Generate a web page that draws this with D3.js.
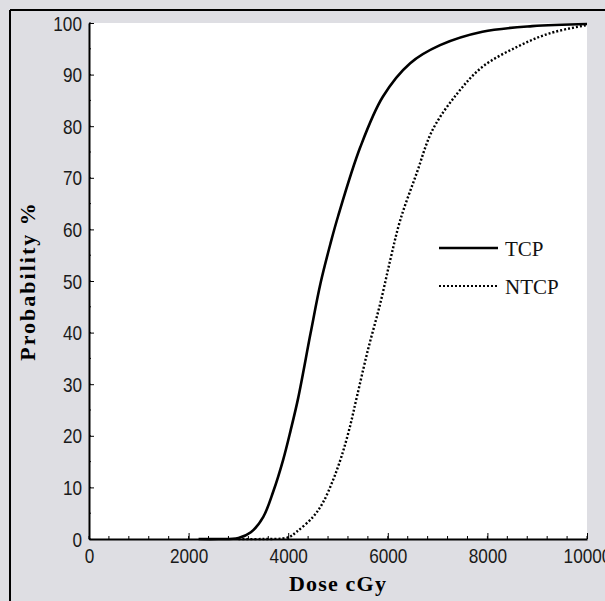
<!DOCTYPE html>
<html>
<head>
<meta charset="utf-8">
<script src="https://cdn.jsdelivr.net/npm/d3@7"></script>
<style>
html,body{margin:0;padding:0;background:#dedee3;}
svg{display:block;}
</style>
</head>
<body>
<svg id="chart" width="605" height="601"></svg>
<script>
// ---- data ----
const xTicks = [0, 2000, 4000, 6000, 8000, 10000];
const yTicks = [0, 10, 20, 30, 40, 50, 60, 70, 80, 90, 100];
const seriesNames = ["TCP", "NTCP"];
const tcpDose = [2200, 2600, 3000, 3250, 3500, 3700, 3900, 4050, 4200, 4450, 4650, 4850, 5000, 5450, 5900, 6450, 7050, 7900, 8900, 10000];
const tcpProb = [0, 0, 0.2, 1.3, 4.3, 9.2, 15.4, 21.1, 27.3, 39.9, 49.6, 57.3, 62.5, 76.0, 85.7, 92.2, 95.7, 98.3, 99.4, 99.8];
const ntcpDose = [3000, 3500, 4000, 4170, 4500, 4700, 4900, 5070, 5230, 5380, 5600, 5850, 6050, 6250, 6580, 6900, 7400, 7900, 8600, 9250, 10000];
const ntcpProb = [0, 0, 0.3, 1.4, 4.3, 7.1, 11.4, 16.0, 21.4, 27.6, 36.6, 45.7, 54.1, 61.8, 70.9, 79.3, 86.4, 91.5, 95.4, 98.0, 99.6];
const xTitle = "Dose cGy";
const yTitle = "Probability %";

// ---- layout ----
const svg = d3.select("#chart");
const L = 89, R = 587, T = 23, B = 539;
const x = d3.scaleLinear().domain([0, 10000]).range([L, R]);
const y = d3.scaleLinear().domain([0, 100]).range([B, T]);

svg.append("rect").attr("x",0).attr("y",0).attr("width",605).attr("height",601).attr("fill","#dedee3");
// outer frame (top and left edges)
svg.append("line").attr("x1",10).attr("x2",605).attr("y1",10).attr("y2",10).attr("stroke","#000").attr("stroke-width",2);
svg.append("line").attr("x1",10).attr("x2",10).attr("y1",10).attr("y2",601).attr("stroke","#000").attr("stroke-width",2);

// plot area
svg.append("rect").attr("x",L).attr("y",T).attr("width",R-L).attr("height",B-T).attr("fill","#fff");

const tickFont = "'Liberation Sans',Arial,sans-serif";

// minor ticks
const xMinor = d3.range(0, 10001, 400);
svg.append("g").selectAll("line").data(xMinor).join("line")
  .attr("x1", d=>x(d)).attr("x2", d=>x(d)).attr("y1", B).attr("y2", B-3)
  .attr("stroke","#000").attr("stroke-width",1);
const yMinor = d3.range(0, 101, 5);
svg.append("g").selectAll("line").data(yMinor).join("line")
  .attr("x1", L).attr("x2", L+2).attr("y1", d=>y(d)).attr("y2", d=>y(d))
  .attr("stroke","#000").attr("stroke-width",1);

// axes
const xAxis = svg.append("g").attr("transform", `translate(0,${B})`)
  .call(d3.axisBottom(x).tickValues(xTicks).tickFormat(d3.format("d")).tickSizeInner(-6).tickSizeOuter(0).tickPadding(10));
const yAxis = svg.append("g").attr("transform", `translate(${L},0)`)
  .call(d3.axisLeft(y).tickValues(yTicks).tickFormat(d3.format("d")).tickSizeInner(-5).tickSizeOuter(0).tickPadding(7));
[xAxis, yAxis].forEach(g => {
  g.select(".domain").attr("stroke","#000").attr("stroke-width",2);
  g.selectAll(".tick line").attr("stroke","#000").attr("stroke-width",1);
  g.selectAll(".tick text").attr("fill","#1a1a1a").style("font-family", tickFont).style("font-size","20px");
});
xAxis.selectAll(".tick text").attr("y", 0).attr("dy", 0).attr("transform","translate(0,24) scale(0.86,1)");
yAxis.selectAll(".tick text").attr("x", 0).attr("dy", 0).attr("transform","translate(-7,7) scale(0.86,1)");

// lines
const line = d3.line().x(d=>x(d[0])).y(d=>y(d[1])).curve(d3.curveCatmullRom.alpha(0.5));
const tcpData = tcpDose.map((d,i)=>[d, tcpProb[i]]);
const ntcpData = ntcpDose.map((d,i)=>[d, ntcpProb[i]]);
svg.append("path").datum(tcpData).attr("d", line).attr("fill","none").attr("stroke","#000").attr("stroke-width",2.6);
svg.append("path").datum(ntcpData).attr("d", line).attr("fill","none").attr("stroke","#000").attr("stroke-width",2.4).attr("stroke-dasharray","2,2");

// legend
const leg = [{name: seriesNames[0], dash: null, y: 248}, {name: seriesNames[1], dash: "2,2", y: 286}];
leg.forEach(l => {
  svg.append("line").attr("x1",439).attr("x2",498).attr("y1",l.y).attr("y2",l.y)
    .attr("stroke","#000").attr("stroke-width", l.dash ? 2 : 2.6).attr("stroke-dasharray", l.dash);
  svg.append("text").attr("x",505).attr("y",l.y+8).text(l.name)
    .style("font-family","'Liberation Serif','Times New Roman',serif").style("font-size","21px").attr("fill","#111");
});

// titles
svg.append("text").attr("x", 338).attr("y", 591).attr("text-anchor","middle").text(xTitle)
  .style("font-family","'Liberation Serif','Times New Roman',serif").style("font-size","22px").style("font-weight","bold").style("letter-spacing","1.2px");
svg.append("text").attr("transform","translate(35,281) rotate(-90)").attr("text-anchor","middle").text(yTitle)
  .style("font-family","'Liberation Serif','Times New Roman',serif").style("font-size","22px").style("font-weight","bold").style("letter-spacing","2px");
</script>
</body>
</html>
